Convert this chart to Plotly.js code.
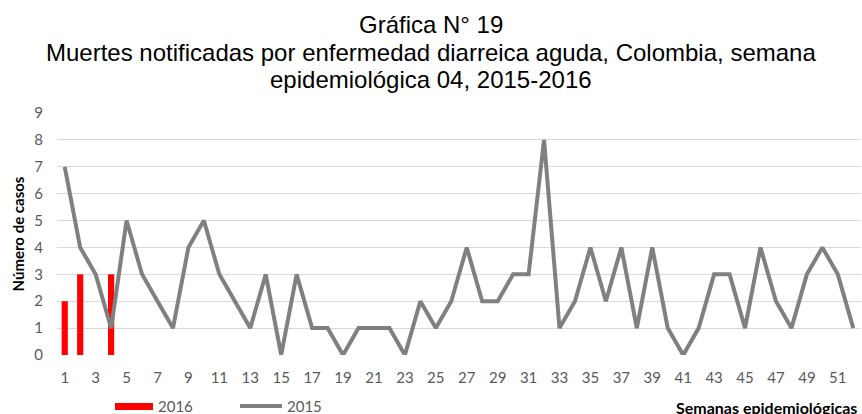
<!DOCTYPE html>
<html>
<head>
<meta charset="utf-8">
<script src="https://cdn.plot.ly/plotly-3.0.1.min.js"></script>
<style>html,body{margin:0;padding:0;background:#fff;}#chart{width:862px;height:414px;}</style>
</head>
<body>
<div id="chart"></div>
<script>
const weeks = Array.from({length: 52}, (_, i) => i + 1);
const cases2015 = [7,4,3,1,5,3,2,1,4,5,3,2,1,3,0,3,1,1,0,1,1,1,0,2,1,2,4,2,2,3,3,8,1,2,4,2,4,1,4,1,0,1,3,3,1,4,2,1,3,4,3,1];
const weeks2016 = [1,2,3,4];
const cases2016 = [2,3,0,3];
const xTickVals = [1,3,5,7,9,11,13,15,17,19,21,23,25,27,29,31,33,35,37,39,41,43,45,47,49,51];
const titleLines = ["Gráfica N° 19", "Muertes notificadas por enfermedad diarreica aguda, Colombia, semana", "epidemiológica 04, 2015-2016"];

const L = 57, R = 861, T = 113, B = 355;
const px = x => (x - L) / (R - L);
const py = y => (B - y) / (B - T);
const titleY = [24, 53, 80];

const traces = [
  {type: 'bar', x: weeks2016, y: cases2016, name: '2016', marker: {color: '#ff0000'}, width: 0.4, showlegend: false},
  {type: 'scatter', mode: 'lines', x: weeks, y: cases2015, name: '2015', line: {color: '#808080', width: 4}, showlegend: false}
];

const titleAnn = titleLines.map((t, i) => ({
  xref: 'paper', yref: 'paper', x: px(431), y: py(titleY[i]), xanchor: 'center', yanchor: 'middle',
  text: t, showarrow: false, font: {family: 'Liberation Sans, Arial, sans-serif', size: 24, color: '#000'}
}));

const layout = {
  width: 862, height: 414,
  margin: {l: L, r: 862 - R, t: T, b: 414 - B},
  paper_bgcolor: '#fff', plot_bgcolor: '#fff',
  font: {family: 'Lato, sans-serif', color: '#595959'},
  xaxis: {range: [0.5, 52.5], tickvals: xTickVals, ticktext: xTickVals.map(String), showgrid: false, zeroline: false, showline: false,
          ticks: 'outside', ticklen: 9, tickcolor: 'rgba(0,0,0,0)', tickfont: {size: 15, color: '#595959'}},
  yaxis: {range: [0, 9], dtick: 1, showgrid: true, gridcolor: '#d9d9d9', gridwidth: 1, zeroline: false, showline: false,
          ticks: 'outside', ticklen: 10, tickcolor: 'rgba(0,0,0,0)', tickfont: {size: 15, color: '#595959'},
          title: {text: '<b>Número de casos</b>', font: {size: 15, color: '#000'}, standoff: 6}},
  shapes: [
    {type: 'rect', xref: 'paper', yref: 'paper', x0: px(115), x1: px(153), y0: py(410), y1: py(403), fillcolor: '#ff0000', line: {width: 0}},
    {type: 'line', xref: 'paper', yref: 'paper', x0: px(240), x1: px(282), y0: py(406), y1: py(406), line: {color: '#808080', width: 4}}
  ],
  annotations: titleAnn.concat([
    {xref: 'paper', yref: 'paper', x: px(156), y: py(406), xanchor: 'left', yanchor: 'middle', text: '2016', showarrow: false, font: {size: 15, color: '#595959'}},
    {xref: 'paper', yref: 'paper', x: px(285), y: py(406), xanchor: 'left', yanchor: 'middle', text: '2015', showarrow: false, font: {size: 15, color: '#595959'}},
    {xref: 'paper', yref: 'paper', x: px(859), y: py(407), xanchor: 'right', yanchor: 'middle', text: '<b>Semanas epidemiológicas</b>', showarrow: false, font: {size: 16, color: '#000'}}
  ])
};

Plotly.newPlot('chart', traces, layout, {displayModeBar: false, staticPlot: true});
</script>
</body>
</html>
